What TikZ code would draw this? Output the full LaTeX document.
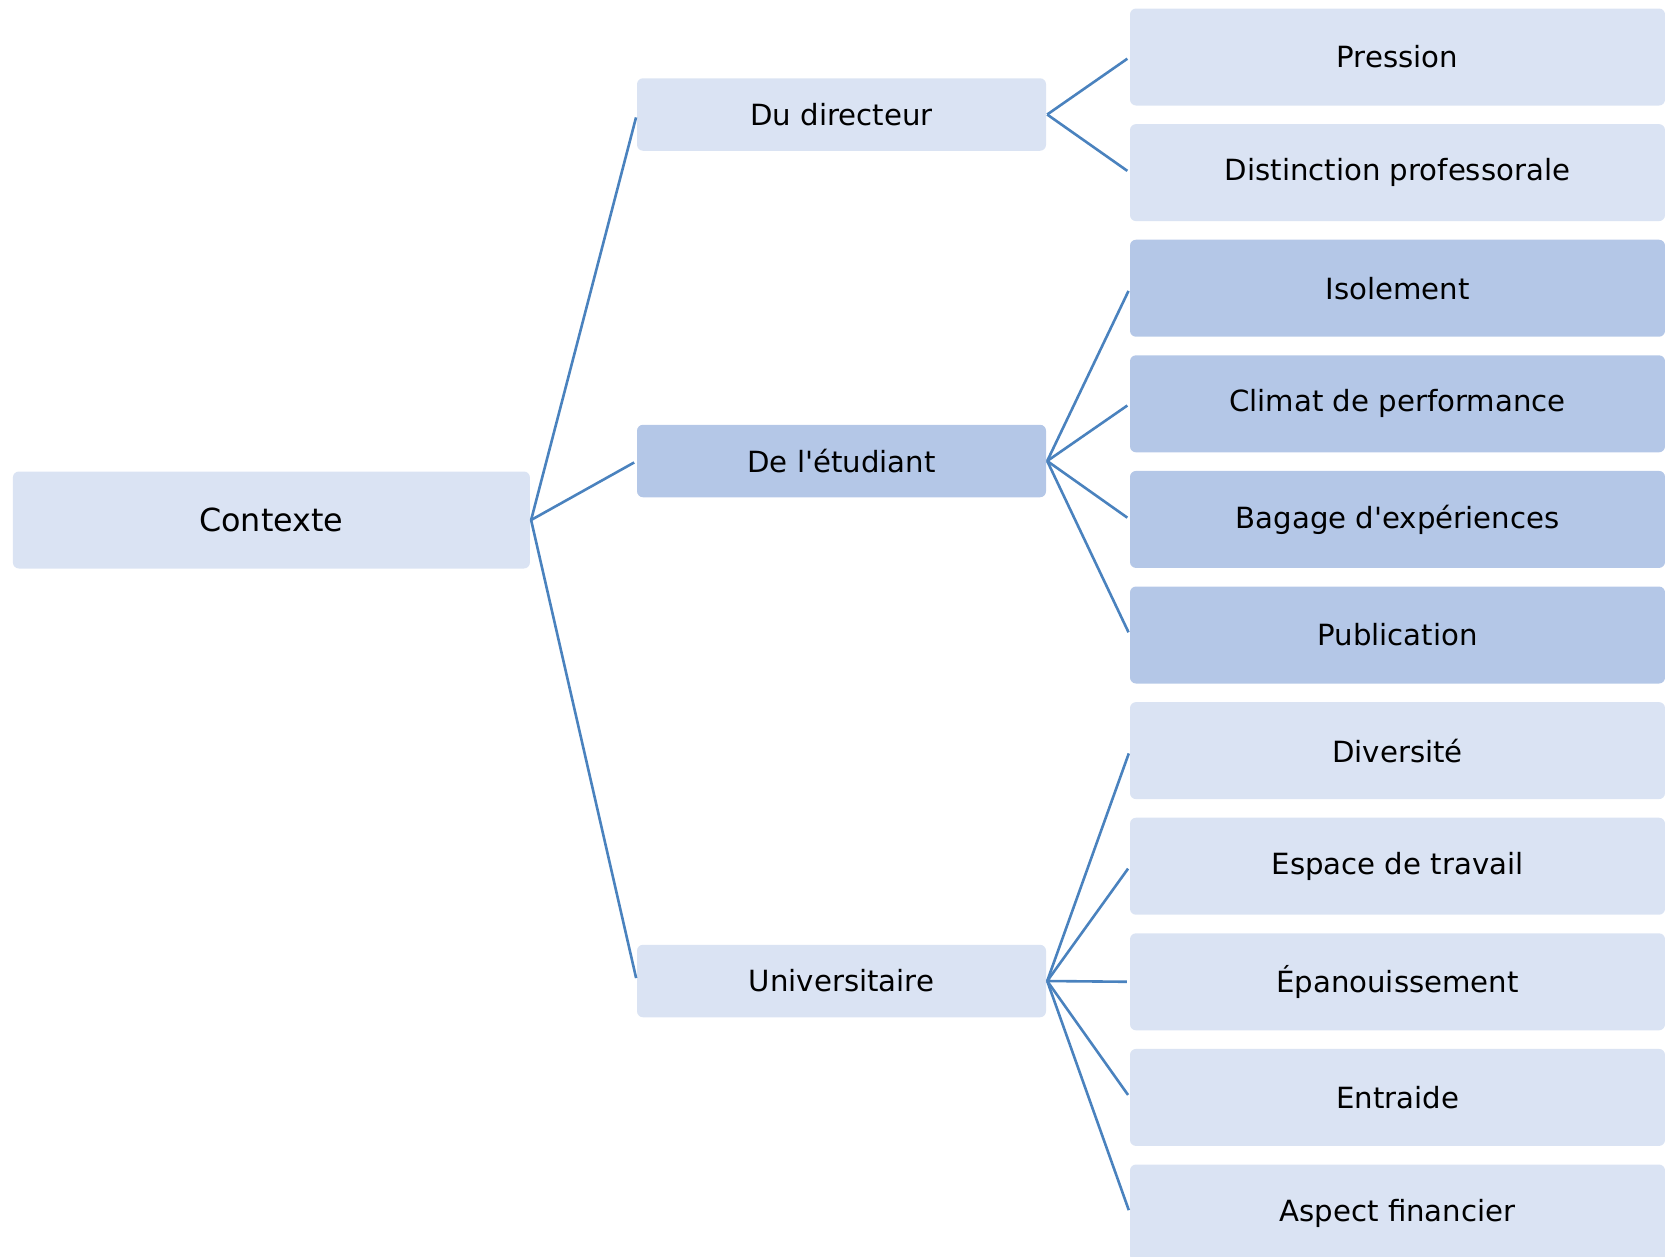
\documentclass[tikz,border=0pt]{standalone}
\usepackage{fontspec}
\setmainfont{DejaVu Sans}[Ligatures=TeXOff]
\begin{document}
\begin{tikzpicture}[x=1pt,y=-1pt,
  box/.style={rounded corners=6pt, inner sep=0pt, text=black, font=\fontsize{29.2}{34}\selectfont},
  light/.style={box, fill=lightfill},
  dark/.style={box, fill=darkfill},
  leaf/.style={minimum width=535pt, minimum height=97pt},
  mid/.style={minimum width=409pt, minimum height=72.5pt},
  conn/.style={draw=linkblue, line width=2.6pt, shorten >=3pt}
]
\definecolor{lightfill}{HTML}{DAE3F3}
\definecolor{darkfill}{HTML}{B4C7E7}
\definecolor{linkblue}{HTML}{4A82BE}
\clip (0,0) rectangle (1665,1256);
\useasboundingbox (0,0) rectangle (1665,1256);

% root
\node[light, minimum width=517pt, minimum height=97pt, font=\fontsize{31.8}{36}\selectfont] (ctx) at (271.4,520) {Contexte};

% second level
\node[light, mid] (dir) at (841.5,114.5) {Du directeur};
\node[dark,  mid] (etu) at (841.5,461) {De l'étudiant};
\node[light, mid] (uni) at (841.5,981) {Universitaire};

% leaves
\node[light, leaf] (l1)  at (1397.5,57)     {Pression};
\node[light, leaf] (l2)  at (1397.5,172.6)  {Distinction professorale};
\node[dark,  leaf] (l3)  at (1397.5,288.2)  {Isolement};
\node[dark,  leaf] (l4)  at (1397.5,403.8)  {Climat de performance};
\node[dark,  leaf] (l5)  at (1397.5,519.4)  {Bagage d'expériences};
\node[dark,  leaf] (l6)  at (1397.5,635)    {Publication};
\node[light, leaf] (l7)  at (1397.5,750.6)  {Diversité};
\node[light, leaf] (l8)  at (1397.5,866.2)  {Espace de travail};
\node[light, leaf] (l9)  at (1397.5,981.8)  {Épanouissement};
\node[light, leaf] (l10) at (1397.5,1097.4) {Entraide};
\node[light, leaf] (l11) at (1397.5,1213)   {Aspect financier};

% connectors
\foreach \c in {dir,etu,uni}
  \draw[conn] ([xshift=1pt]ctx.east) -- (\c.west);
\foreach \c in {l1,l2}
  \draw[conn] ([xshift=1pt]dir.east) -- (\c.west);
\foreach \c in {l3,l4,l5,l6}
  \draw[conn] ([xshift=1pt]etu.east) -- (\c.west);
\foreach \c in {l7,l8,l9,l10,l11}
  \draw[conn] ([xshift=1pt]uni.east) -- (\c.west);
\end{tikzpicture}
\end{document}
